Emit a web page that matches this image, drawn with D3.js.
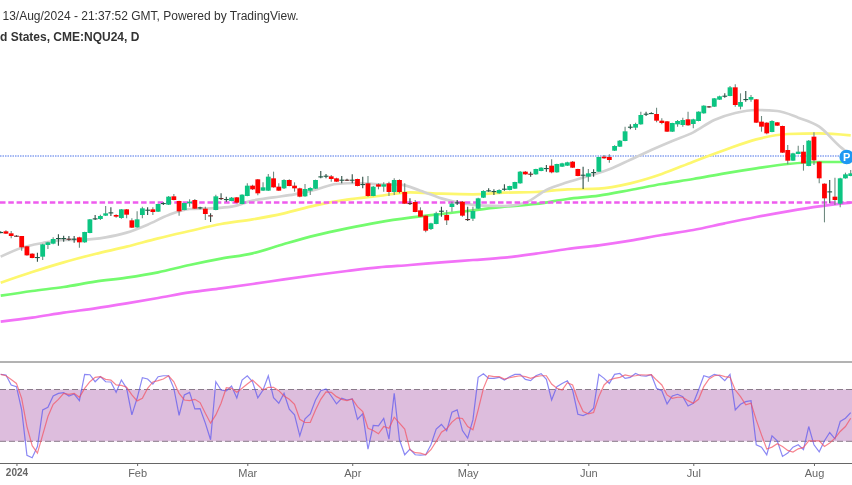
<!DOCTYPE html>
<html><head><meta charset="utf-8">
<script src="https://cdn.jsdelivr.net/npm/d3@7/dist/d3.min.js"></script>
<style>
html,body{margin:0;padding:0;background:#fff;overflow:hidden}
svg{display:block;filter:blur(.3px)}
text{font-family:"Liberation Sans",Arial,sans-serif}
</style></head><body><div id="chart"></div>
<script>
const headerLine1 = "13/Aug/2024 - 21:37:52 GMT, Powered by TradingView.";
const headerLine2 = "d States, CME:NQU24, D";
const tickIndex = [3,26,47,67,89,112,132,155];
const tickLabels = ["2024","Feb","Mar","Apr","May","Jun","Jul","Aug"];

const opens = [17020,17060,17000,16930,16920,16610,16390,16270,16300,16650,16690,16840,16840,16840,16820,16880,16730,17010,17430,17430,17530,17610,17550,17460,17720,17390,17180,17550,17690,17720,17650,17880,17860,18110,17970,17700,17900,18000,17760,17740,17540,17700,18060,18010,17970,18080,17880,18120,18430,18620,18280,18280,18650,18400,18350,
18600,18430,18350,18110,18280,18340,18690,18710,18710,18650,18590,18610,18590,18630,18460,18500,18120,18470,18400,18500,18240,18600,18240,17910,17940,17690,17530,17130,17280,17660,17550,17790,17910,17950,17430,17440,17740,18070,18270,18250,18200,18320,18300,18340,18500,18850,18790,18770,18870,18940,19030,18830,19000,19030,
19150,18930,18740,18700,18820,18850,19300,19290,19480,19600,19770,20180,20170,20270,20570,20590,20580,20380,20360,20050,20270,20250,20420,20280,20370,20600,20810,20800,21010,21110,21120,21380,20800,21010,21010,21020,20350,20320,20040,20330,20220,19500,19180,19380,19450,19020,19900,19150,18490,18240,18100,17890,18650,18720];
const highs = [17060,17090,17070,16940,16920,16620,16400,16420,16690,16750,16880,16970,16930,16920,16920,16900,17050,17430,17550,17560,17820,17780,17570,17730,17730,17450,17660,17800,17780,17780,17890,17930,18120,18180,17980,17920,18020,18030,17800,17800,17600,18160,18200,18100,18090,18090,18170,18500,18460,18630,18530,18780,18850,18500,18620,
18620,18530,18370,18480,18380,18610,18870,18780,18750,18670,18720,18640,18770,18640,18700,18720,18420,18500,18530,18550,18650,18620,18500,18050,18000,17780,17540,17320,17650,17800,17700,17950,18000,17970,17800,17800,18070,18290,18350,18320,18320,18470,18430,18550,18870,18870,18850,18940,18980,19050,19220,19090,19120,19150,
19170,18940,19000,18930,18920,19300,19350,19370,19640,19800,20200,20270,20320,20650,20650,20630,20770,20450,20370,20320,20400,20470,20650,20440,20660,20840,20820,21060,21130,21200,21420,21470,21200,21270,21150,21030,20520,20330,20390,20340,20230,19650,19420,19630,19650,19800,20030,19160,18500,18600,18670,18670,18820,18900];
const lows = [17000,16980,16850,16900,16480,16330,16250,16150,16200,16530,16670,16630,16750,16780,16720,16570,16720,17000,17400,17400,17520,17520,17470,17440,17450,17160,17170,17450,17550,17550,17640,17850,17850,17990,17530,17690,17800,17730,17720,17400,17340,17690,18000,17950,17960,17900,17870,18110,18300,18140,18270,18270,18370,18270,18330,
18410,18250,18080,18100,18150,18330,18650,18650,18550,18540,18500,18570,18500,18410,18350,18100,18110,18320,18250,18120,18150,18200,17880,17850,17630,17490,17030,17100,17270,17500,17250,17650,17850,17500,17370,17370,17730,18060,18250,18150,18190,18280,18290,18330,18490,18760,18700,18760,18860,18850,18800,18820,18990,19020,
18960,18710,18330,18550,18700,18840,19240,19120,19470,19590,19760,20120,20100,20260,20520,20580,20330,20270,20040,20040,20200,20200,20230,20150,20360,20590,20770,20790,21000,21070,21110,20800,20720,20950,20950,20310,20050,19970,20030,20220,19410,19070,19170,19370,18880,19010,19050,18500,17330,17900,17850,17780,18640,18710];
const closes = [17040,16990,16920,16910,16580,16340,16260,16290,16670,16730,16830,16860,16860,16820,16840,16730,17040,17420,17450,17520,17600,17630,17500,17720,17560,17170,17420,17750,17710,17640,17880,17910,18100,18000,17660,17910,17950,17740,17780,17580,17520,18110,18040,18030,18070,17920,18160,18430,18320,18200,18380,18700,18380,18280,18600,
18420,18350,18100,18330,18360,18600,18710,18730,18630,18550,18610,18590,18610,18420,18480,18120,18400,18400,18470,18240,18600,18240,17890,17890,17640,17500,17080,17300,17600,17680,17390,17890,17930,17530,17410,17670,18050,18270,18290,18270,18300,18340,18420,18540,18850,18770,18770,18930,18970,18960,18830,19080,19100,19130,
18970,18720,18760,18800,18840,19290,19250,19200,19620,19780,20060,20200,20280,20550,20590,20610,20380,20310,20050,20310,20370,20400,20240,20420,20650,20830,20790,21050,21110,21130,21380,20850,20940,21030,21090,20320,20200,20000,20370,20230,19420,19180,19400,19450,19100,19780,19190,18650,18050,18260,18000,18650,18770,18800];

const sma20Index = [0,4,8,12,16,20,24,28,32,36,40,44,48,52,56,60,64,68,72,76,80,84,88,92,96,100,104,108,112,116,120,124,128,132,136,140,144,148,152,156,160,162];
const sma20 = [16300,16570,16710,16800,16810,16880,17020,17260,17550,17730,17750,17800,17980,18080,18170,18310,18480,18510,18470,18460,18280,18050,17900,17830,17820,17920,18300,18530,18720,18920,19210,19500,19770,20030,20400,20610,20700,20670,20470,20200,19600,19350];
const slowIndex = [0,6,12,18,24,30,36,42,48,54,60,66,72,78,84,90,96,102,108,114,120,126,132,138,144,150,156,162];
const sma50 = [15520,15840,16130,16380,16600,16850,17070,17280,17420,17600,17840,18010,18120,18230,18190,18170,18220,18240,18320,18340,18500,18780,19150,19500,19820,19980,20000,19940];
const sma100 = [15130,15270,15390,15550,15670,15830,16050,16240,16400,16680,16940,17150,17330,17470,17580,17690,17800,17880,18030,18130,18300,18480,18630,18800,18950,19080,19140,19140];
const sma200 = [14350,14470,14620,14750,14900,15060,15230,15350,15480,15620,15750,15870,15980,16050,16130,16200,16270,16390,16530,16640,16780,16950,17100,17300,17490,17660,17810,17920];
const supportLevel = 17925;
const lastPriceLevel = 19320;

const stochK = [81.7,81.2,73.5,72.2,54.2,19.1,17.3,26,54.2,56.3,65,67,67.6,65,66.5,61.4,81.7,81.4,76,79.9,76,75.8,67.8,77.3,70.9,50.4,63.2,79.1,78.1,74.2,79.9,80.6,80.6,70.9,50.1,65.8,67.8,55,55.3,44,31.2,76,69.6,68.9,72.7,63.5,77.3,80.6,76,63.5,69.6,80.6,63.7,59.4,67,
54.8,50.4,34.2,47.3,51.2,61.9,69.1,70.4,65,58.9,63.2,61.9,62.7,47,51.2,24,42.2,41.9,47.6,31.7,67,31.2,19.6,24,19.6,19.4,19.6,27.3,39.4,43,38.1,52.4,54.2,38.3,32.4,46.5,79.4,82.2,78.6,78.6,79.4,77.3,79.9,81.7,81.7,77.8,76.8,80.6,82.2,77.8,61.9,72.2,74.7,76.8,
69.6,50.9,49.9,51.7,55.5,81.7,78.6,74.7,81.7,82.4,78.6,79.4,82.4,80.6,80.4,81.4,70.9,69.1,58.9,65,66.3,64.5,57.3,59.4,69.6,80.6,79.4,81.7,80.6,76.8,81.7,54.2,58.6,60.6,61.4,27.3,25.5,19.6,34.2,30.4,18.3,20.9,25.5,27.3,23.5,41.4,27.3,21.9,30.4,36.8,31.9,45.3,47.8,52.2];
const stochD = [81.7,80.6,77.8,74.7,63.2,41.4,26.6,20.9,35,49.1,58.6,62.4,67,66.3,67,64,70.9,76,79.4,79.9,77.8,77.3,73.5,73.2,71.7,65.8,61.2,63.2,70.9,75.8,76.8,78.1,80.6,76,67,61.9,61.4,62.4,59.9,51.7,44,50.4,59.4,71.4,70.9,67.8,70.9,74.2,77.3,73.5,69.6,71.7,71.7,69.1,65,
62.4,58.6,47,44.5,44.5,54.2,62.4,68.1,67.8,64.5,62.4,61.4,62.7,56.8,53,40.1,38.3,35.8,41.4,40.1,48.6,44,39.4,23.5,21.2,20.9,19.6,23.5,29.9,37,39.6,44.8,48.1,47.6,41.4,38.9,54.2,70.9,80.6,79.9,79.9,78.1,79.1,79.9,80.6,79.9,78.6,79.9,80.6,80.6,74.2,70.9,69.6,75.3,
73.5,61.9,53,51.2,52.2,64.5,73.5,77.3,78.6,79.4,81.2,80.4,80.6,81.4,81.2,81.4,77.3,73.5,65.8,63.2,64,64,61.4,59.4,62.4,72.2,78.1,80.6,81.2,79.9,79.4,69.6,64.5,58.1,59.4,46.5,35,24,25.5,28.1,26,23,21.7,24.2,25.3,30.4,30.4,30.4,26,28.6,32.4,37.6,41.4,47.8];
const bandUpper = 70, bandLower = 30;

const W = 852, H = 485;
const svg = d3.select("#chart").append("svg").attr("width",W).attr("height",H);
const x = d3.scaleLinear().domain([0,162]).range([0.7,850.7]);
const y = d3.scaleLinear().domain([24000,13200]).range([0,360]);
const rsiY = d3.scaleLinear().domain([bandLower,bandUpper]).range([441.3,389.5]);

// header
svg.append("text").attr("x",2.5).attr("y",20).attr("font-size",12).attr("fill","#333").text(headerLine1);
svg.append("text").attr("x",0).attr("y",41).attr("font-size",12).attr("font-weight","bold").attr("fill","#333").text(headerLine2);

// level lines
svg.append("line").attr("x1",0).attr("x2",W).attr("y1",y(lastPriceLevel)).attr("y2",y(lastPriceLevel))
  .attr("stroke","#4a72e8").attr("stroke-width",1).attr("stroke-dasharray","1.5,1");

// moving averages
const maLine = (ix) => d3.line().x((d,i)=>x(ix[i])).y(d=>y(d)).curve(d3.curveMonotoneX);
[[sma200,slowIndex,"#f272f7"],[sma100,slowIndex,"#74fb6e"],[sma50,slowIndex,"#fdf76e"],[sma20,sma20Index,"#d2d2d2"]].forEach(([v,ix,c])=>{
  svg.append("path").datum(v).attr("d",maLine(ix)).attr("fill","none").attr("stroke",c).attr("stroke-width",2.7);
});
svg.append("line").attr("x1",0).attr("x2",W).attr("y1",y(supportLevel)).attr("y2",y(supportLevel))
  .attr("stroke","#ee5cee").attr("stroke-width",2.6).attr("stroke-dasharray","5.5,2.8");

// candles
const idx = d3.range(opens.length);
svg.append("g").selectAll("line").data(idx).join("line")
  .attr("x1",i=>x(i)).attr("x2",i=>x(i)).attr("y1",i=>y(highs[i])).attr("y2",i=>y(lows[i]))
  .attr("stroke",i=>Math.abs(opens[i]-closes[i])<=30?"#2f4f45":"#6f8a80").attr("stroke-width",1.1);
svg.append("g").selectAll("rect").data(idx).join("rect")
  .attr("x",i=>x(i)-2.4).attr("width",4.8)
  .attr("y",i=>y(Math.max(opens[i],closes[i])))
  .attr("height",i=>Math.max(1.1,Math.abs(y(opens[i])-y(closes[i]))))
  .attr("fill",i=>{
    const doji=Math.abs(opens[i]-closes[i])<=30, up=closes[i]>=opens[i];
    if(doji) return up?"#1f5a45":"#6e2b2b";
    return up?"#0cc582":"#ff0000";
  });

// last-price marker
const mark = svg.append("g").attr("transform",`translate(${x(162)-4},${y(lastPriceLevel)+1})`);
mark.append("circle").attr("r",7.3).attr("fill","#1e98f3");
mark.append("text").attr("text-anchor","middle").attr("y",4).attr("font-size",11).attr("font-weight","bold").attr("fill","#fff").text("P");

// oscillator pane
svg.append("line").attr("x1",0).attr("x2",W).attr("y1",362).attr("y2",362).attr("stroke","#666").attr("stroke-width",1);
svg.append("rect").attr("x",0).attr("width",W).attr("y",rsiY(bandUpper)).attr("height",rsiY(bandLower)-rsiY(bandUpper)).attr("fill","#ddbddd");
[bandUpper,bandLower].forEach(v=>{
  svg.append("line").attr("x1",0).attr("x2",W).attr("y1",rsiY(v)).attr("y2",rsiY(v))
    .attr("stroke","#8a7a8a").attr("stroke-width",1).attr("stroke-dasharray","6,3");
});
const oscLine = d3.line().x((d,i)=>x(i)).y(d=>rsiY(d));
svg.append("path").datum(stochK).attr("d",oscLine).attr("fill","none").attr("stroke","#5a55f0").attr("stroke-width",1.2).attr("stroke-opacity",.7);
svg.append("path").datum(stochD).attr("d",oscLine).attr("fill","none").attr("stroke","#f4505f").attr("stroke-width",1.2).attr("stroke-opacity",.7);

// time axis
const axis = d3.axisBottom(x).tickValues(tickIndex).tickFormat((d,i)=>tickLabels[i]).tickSize(3).tickPadding(3);
const ag = svg.append("g").attr("transform","translate(0,463)").call(axis);
ag.select(".domain").attr("stroke","#666").attr("d",`M0,0.5H${W}`);
ag.selectAll(".tick line").attr("stroke","#666");
ag.selectAll(".tick text").attr("fill","#666").attr("font-size",(d,i)=>i===0?10:11).attr("font-family",'"Liberation Sans",Arial,sans-serif')
  .attr("font-weight",(d,i)=>i===0?"bold":"normal");
</script></body></html>
